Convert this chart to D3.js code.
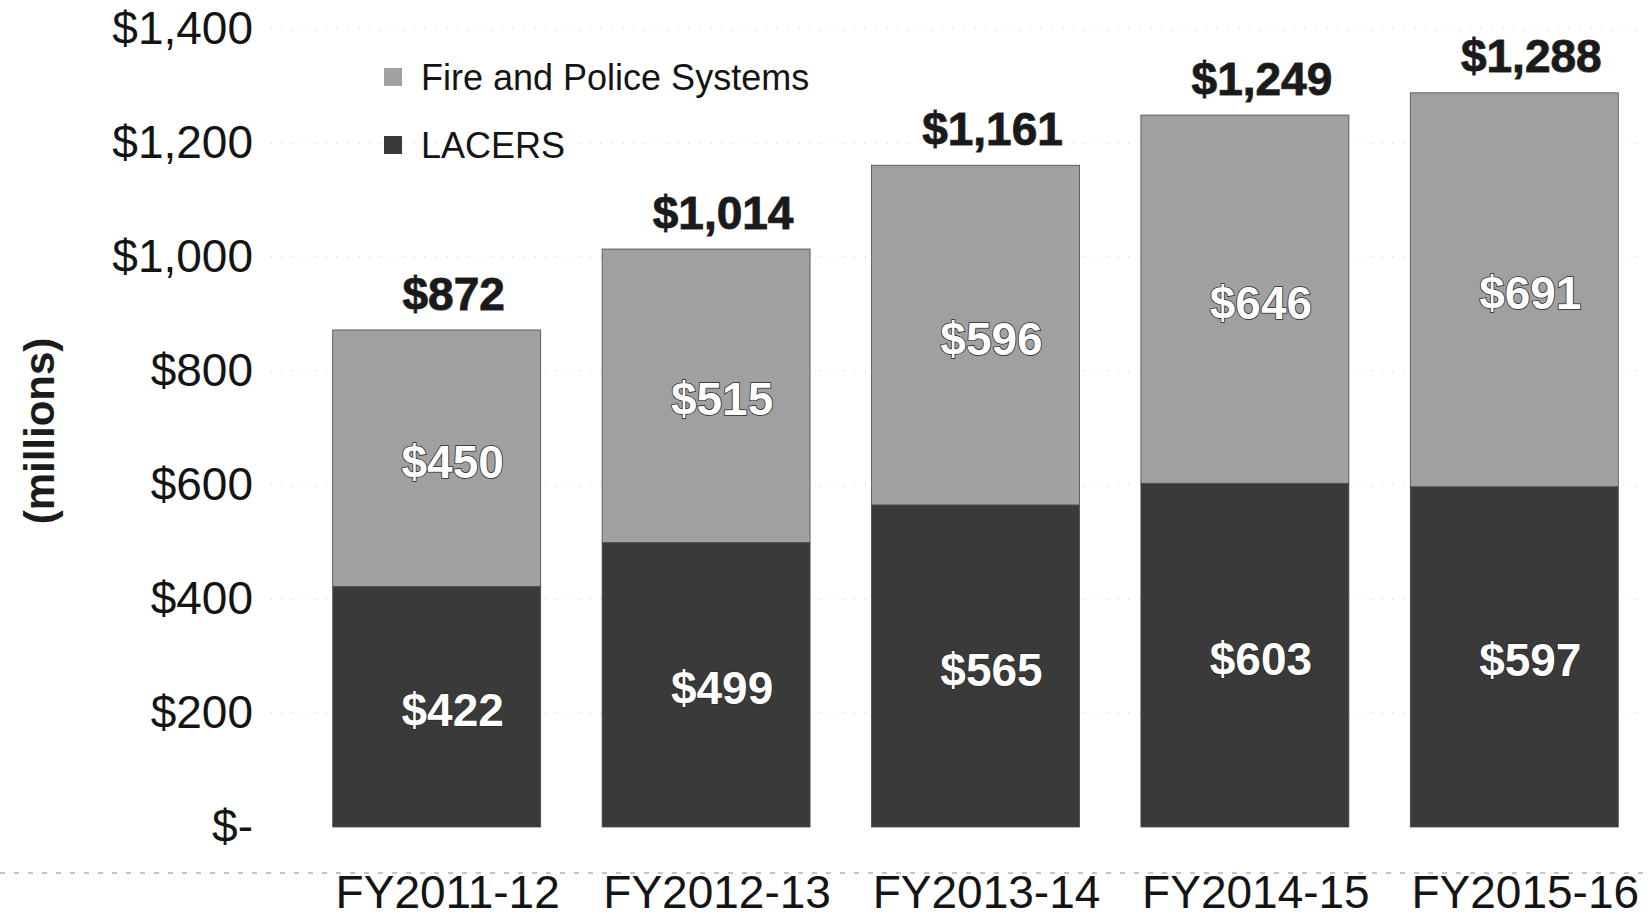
<!DOCTYPE html>
<html>
<head>
<meta charset="utf-8">
<script src="https://cdn.jsdelivr.net/npm/d3@7/dist/d3.min.js"></script>
<style>
  html, body { margin: 0; padding: 0; background: #fff; }
  svg { display: block; font-family: "Liberation Sans", Arial, Helvetica, sans-serif; }
</style>
</head>
<body>
<svg id="chart" width="1650" height="918"></svg>
<script>
// Pension contributions by fiscal year, in millions of dollars
const categories = ["FY2011-12", "FY2012-13", "FY2013-14", "FY2014-15", "FY2015-16"];
const lacers = [422, 499, 565, 603, 597];
const firePolice = [450, 515, 596, 646, 691];
const totals = [872, 1014, 1161, 1249, 1288];
const yTicks = [0, 200, 400, 600, 800, 1000, 1200, 1400];
const seriesNames = ["Fire and Police Systems", "LACERS"];

const W = 1650, H = 918;
const svg = d3.select("#chart");

const colors = { fire: "#a0a0a0", lacers: "#3a3a3a" };

const rows = categories.map((c, i) => ({ cat: c, lacers: lacers[i], fire: firePolice[i], total: totals[i] }));

const x = d3.scaleBand()
  .domain(categories)
  .range([302, 1649])
  .paddingInner(0.228)
  .paddingOuter(0.114);

const y = d3.scaleLinear().domain([0, 1400]).range([827, 29]);

// faint dotted gridlines
svg.append("g")
  .selectAll("line")
  .data(yTicks.filter(d => d > 0))
  .join("line")
  .attr("x1", 270).attr("x2", W - 10)
  .attr("y1", d => y(d)).attr("y2", d => y(d))
  .attr("stroke", "#dedede")
  .attr("stroke-width", 1)
  .attr("stroke-dasharray", "2,9");

// stacked bars
const stack = d3.stack().keys(["lacers", "fire"]);
const layers = stack(rows);

svg.append("g")
  .selectAll("g")
  .data(layers)
  .join("g")
  .attr("fill", d => colors[d.key])
  .selectAll("rect")
  .data(d => d)
  .join("rect")
  .attr("x", d => x(d.data.cat))
  .attr("width", x.bandwidth())
  .attr("y", d => y(d[1]))
  .attr("height", d => y(d[0]) - y(d[1]))
  .attr("stroke", "#4a4a4a")
  .attr("stroke-width", 0.8);

// segment value labels
const labelDx = 16;
svg.append("g")
  .selectAll("g")
  .data(layers)
  .join("g")
  .selectAll("text")
  .data(d => d.map(p => ({ p, key: d.key })))
  .join("text")
  .attr("x", d => x(d.p.data.cat) + x.bandwidth() / 2 + labelDx)
  .attr("y", d => (y(d.p[0]) + y(d.p[1])) / 2 + 3)
  .attr("dy", "0.36em")
  .attr("text-anchor", "middle")
  .attr("font-size", 46)
  .attr("font-weight", "bold")
  .attr("fill", "#fff")
  .attr("stroke", "#2a2a2a")
  .attr("stroke-width", 1.6)
  .attr("paint-order", "stroke")
  .text(d => "$" + d3.format(",")(d.p[1] - d.p[0]));

// totals above bars
svg.append("g")
  .selectAll("text")
  .data(rows)
  .join("text")
  .attr("x", d => x(d.cat) + x.bandwidth() / 2 + 17)
  .attr("y", d => y(d.total) - 37)
  .attr("dy", "0.36em")
  .attr("text-anchor", "middle")
  .attr("font-size", 46)
  .attr("font-weight", "bold")
  .attr("fill", "#1a1a1a")
  .attr("stroke", "#444")
  .attr("stroke-width", 1)
  .attr("paint-order", "stroke")
  .text(d => "$" + d3.format(",")(d.total));

// y axis
const yAxis = d3.axisLeft(y)
  .tickValues(yTicks)
  .tickSize(0)
  .tickPadding(10)
  .tickFormat(d => d === 0 ? "$-" : "$" + d3.format(",")(d));

const gy = svg.append("g")
  .attr("transform", "translate(263,0)")
  .call(yAxis);
gy.select(".domain").remove();
gy.selectAll("text")
  .attr("font-size", 46)
  .attr("font-family", "\"Liberation Sans\", Arial, sans-serif")
  .attr("fill", "#141414");

// x axis
const xAxis = d3.axisBottom(x).tickSize(0).tickPadding(0);
const gx = svg.append("g")
  .attr("transform", "translate(11,875)")
  .call(xAxis);
gx.select(".domain").remove();
gx.selectAll("text")
  .attr("font-size", 46)
  .attr("font-family", "\"Liberation Sans\", Arial, sans-serif")
  .attr("fill", "#141414")
  .attr("dy", "0.71em");

// dashed separator line above category labels
svg.append("line")
  .attr("x1", 0).attr("x2", W)
  .attr("y1", 873).attr("y2", 873)
  .attr("stroke", "#8a8a8a")
  .attr("stroke-width", 1.2)
  .attr("stroke-dasharray", "5,9");

// y axis title
svg.append("text")
  .attr("transform", "translate(39,431) rotate(-90)")
  .attr("text-anchor", "middle")
  .attr("dy", "0.36em")
  .attr("font-size", 42)
  .attr("font-weight", "bold")
  .attr("fill", "#1c1c1c")
  .text("(millions)");

// legend
const legendColors = [colors.fire, colors.lacers];
const legend = svg.append("g")
  .selectAll("g")
  .data(seriesNames)
  .join("g")
  .attr("transform", (d, i) => `translate(384,${77 + i * 68})`);
legend.append("rect")
  .attr("x", 0).attr("y", -9)
  .attr("width", 18).attr("height", 18)
  .attr("fill", (d, i) => legendColors[i]);
legend.append("text")
  .attr("x", 37)
  .attr("dy", "0.36em")
  .attr("font-size", 36)
  .attr("fill", "#141414")
  .text(d => d);
</script>
</body>
</html>
